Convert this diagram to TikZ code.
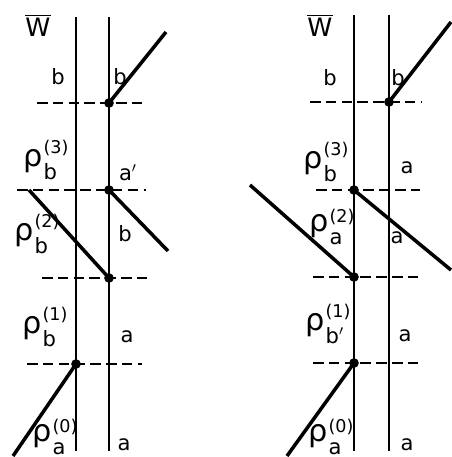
\documentclass[tikz,border=0pt]{standalone}
\usepackage{amsmath}
\usepackage{fontspec}
\setmainfont{DejaVu Sans}
\usetikzlibrary{positioning}
\tikzset{
  wire/.style={line width=0.9pt},
  track/.style={line width=2pt},
  cut/.style={line width=1.2pt,dash pattern=on 6pt off 3pt},
  dot/.style={circle,fill=black,inner sep=0pt,minimum size=5.5pt},
  lab/.style={inner sep=0pt,font=\large},
}
\newcommand{\rholab}[2]{{\LARGE ρ}\hspace{0.5pt}\raisebox{-7.5pt}{\shortstack[l]{\normalsize(#2)\\[1.5pt]\large #1}}}

\begin{document}
\begin{tikzpicture}[x=0.02cm,y=-0.02cm]
  \useasboundingbox (0,0) rectangle (451,457);

  % left diagram
  \coordinate (lt1) at (76,17);  \coordinate (lb1) at (76,451);
  \coordinate (lt2) at (109,17); \coordinate (lb2) at (109,451);
  \draw[wire] (lt1) -- (lb1);
  \draw[wire] (lt2) -- (lb2);
  \draw[cut] (37,103) -- (143,103);
  \draw[cut] (17,190) -- (146,190);
  \draw[cut] (42,278) -- (151,278);
  \draw[cut] (27,364) -- (142,364);
  \node[dot] (l3) at (109,103) {};
  \node[dot] (l2) at (109,190) {};
  \node[dot] (l1) at (109,278) {};
  \node[dot] (l0) at (76,364) {};
  \coordinate (l3e) at (166,32);
  \coordinate (l2e) at (168,251);
  \coordinate (l1e) at (29,190);
  \coordinate (l0e) at (13,456);
  \draw[track] (l3.center) -- (l3e);
  \draw[track] (l2.center) -- (l2e);
  \draw[track] (l1e) -- (l1.center);
  \draw[track] (l0.center) -- (l0e);

  \node[lab] (lw) at (38,25) {$\overline{\text{\Large W}}$};
  \node[lab] (lb) at (58,77) {b};
  \node[lab] (lbr) at (120,77) {b};
  \node[lab] (lr3) at (46,160) {\rholab{b}{3}};
  \node[lab] (lar) at (128,173) {a$'$};
  \node[lab] (lr2) at (37,234) {\rholab{b}{2}};
  \node[lab] (lbr2) at (125,234) {b};
  \node[lab] (lr1) at (45,327) {\rholab{b}{1}};
  \node[lab] (lar1) at (127,337) {a};
  \node[lab] (lr0) at (55,437) {\rholab{a}{0}};
  \node[lab] (lar0) at (124,445) {a};

  % right diagram
  \coordinate (rt1) at (354,15);  \coordinate (rb1) at (354,451);
  \coordinate (rt2) at (389,15);  \coordinate (rb2) at (389,451);
  \draw[wire] (rt1) -- (rb1);
  \draw[wire] (rt2) -- (rb2);
  \draw[cut] (310,102) -- (422,102);
  \draw[cut] (316,190) -- (420,190);
  \draw[cut] (313,277) -- (421,277);
  \draw[cut] (313,363) -- (421,363);
  \node[dot] (r3) at (389,102) {};
  \node[dot] (r2) at (354,190) {};
  \node[dot] (r1) at (354,277) {};
  \node[dot] (r0) at (354,363) {};
  \coordinate (r3e) at (451,22);
  \coordinate (r2e) at (451,270);
  \coordinate (r1e) at (250,185);
  \coordinate (r0e) at (287,456);
  \draw[track] (r3.center) -- (r3e);
  \draw[track] (r2.center) -- (r2e);
  \draw[track] (r1e) -- (r1.center);
  \draw[track] (r0.center) -- (r0e);

  \node[lab] (rw) at (320,25) {$\overline{\text{\Large W}}$};
  \node[lab] (rb) at (330,78) {b};
  \node[lab] (rbr) at (398,78) {b};
  \node[lab] (rr3) at (326,162) {\rholab{b}{3}};
  \node[lab] (rar) at (407,168) {a};
  \node[lab] (rr2) at (332,227) {\rholab{a}{2}};
  \node[lab] (rar2) at (397,238) {a};
  \node[lab] (rr1) at (328,324) {\rholab{b$'$}{1}};
  \node[lab] (rar1) at (405,336) {a};
  \node[lab] (rr0) at (331,437) {\rholab{a}{0}};
  \node[lab] (rar0) at (407,445) {a};
\end{tikzpicture}
\end{document}
